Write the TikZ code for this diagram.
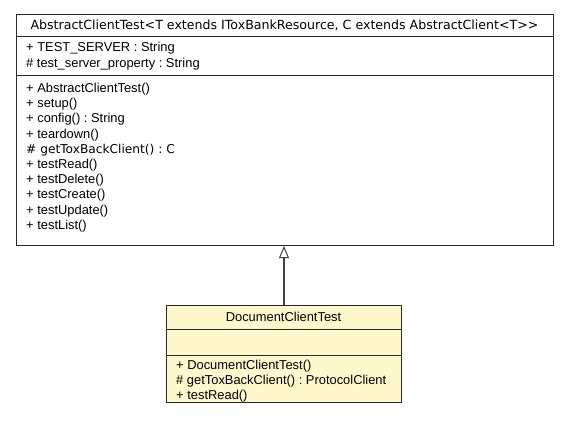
\documentclass[tikz,border=0pt]{standalone}
\usepackage{fontspec}
\setmainfont{Liberation Sans}
\newfontfamily\hdrfont{DejaVu Sans}
\usetikzlibrary{arrows.meta}
\definecolor{clsfill}{RGB}{255,248,204}
\definecolor{edge}{RGB}{40,40,40}
\definecolor{conn}{RGB}{64,64,64}
\frenchspacing
\tikzset{
  clsbox/.style={draw=edge, line width=1bp, inner sep=0pt, anchor=north west},
  sepline/.style={draw=edge, line width=1bp},
  hdr/.style={font=\hdrfont\fontsize{12.6bp}{14bp}\selectfont, inner sep=0pt, anchor=base},
  mem/.style={font=\fontsize{12.9bp}{14bp}\selectfont, inner sep=0pt, anchor=base west},
  memdv/.style={font=\hdrfont\fontsize{12.2bp}{14bp}\selectfont, inner sep=0pt, anchor=base west},
  inherit/.style={draw=conn, line width=1.4bp, -{Triangle[open, length=12bp, width=10bp, line width=1bp]}}
}
\begin{document}
\begin{tikzpicture}[x=1bp, y=-1bp]
\useasboundingbox (0,0) rectangle (568,421);
% top class
\node[clsbox, fill=white, minimum width=537bp, minimum height=231bp] (abs) at (16,14) {};
\draw[sepline] (16,36) -- (553,36);
\draw[sepline] (16,75) -- (553,75);
\node[hdr] (absname) at (284.5,29.5) {AbstractClientTest<T extends IToxBankResource, C extends AbstractClient<T>>};
\node[mem] (a1) at (26,51.5) {+ TEST\_SERVER : String};
\node[mem] (a2) at (26,67) {\# test\_server\_property : String};
\node[mem] (m1) at (26,92.5) {+ AbstractClientTest()};
\node[mem] (m2) at (26,107.7) {+ setup()};
\node[mem] (m3) at (26,122.9) {+ config() : String};
\node[mem] (m4) at (26,138.1) {+ teardown()};
\node[memdv] (m5) at (26,153.3) {\# getToxBackClient() : C};
\node[mem] (m6) at (26,168.5) {+ testRead()};
\node[mem] (m7) at (26,183.7) {+ testDelete()};
\node[mem] (m8) at (26,198.9) {+ testCreate()};
\node[mem] (m9) at (26,214.1) {+ testUpdate()};
\node[mem] (m10) at (26,229.3) {+ testList()};
% bottom class
\node[clsbox, fill=clsfill, minimum width=235bp, minimum height=97bp] (doc) at (166,305) {};
\draw[sepline] (166,329) -- (401,329);
\draw[sepline] (166,355) -- (401,355);
\node[mem, anchor=base] (docname) at (283.5,321.5) {DocumentClientTest};
\node[mem] (d1) at (176,369.5) {+ DocumentClientTest()};
\node[mem] (d2) at (176,384.5) {\# getToxBackClient() : ProtocolClient};
\node[mem] (d3) at (176,399) {+ testRead()};
% inheritance
\draw[inherit] (doc.north) -- (doc.north |- abs.south);
\end{tikzpicture}
\end{document}
